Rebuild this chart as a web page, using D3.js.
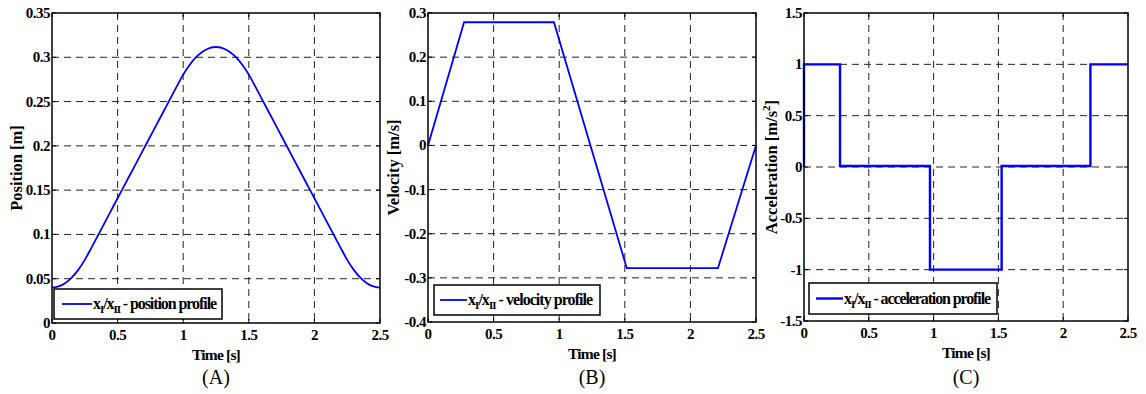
<!DOCTYPE html>
<html><head><meta charset="utf-8">
<script src="https://cdn.jsdelivr.net/npm/d3@7"></script>
<style>
html,body{margin:0;padding:0;background:#fff;}
text{font-family:"Liberation Serif","Times New Roman",serif;}
</style></head>
<body><svg id="c" width="1146" height="394"></svg>
<script>
// ---- data ----
const xTicks = [0, 0.5, 1, 1.5, 2, 2.5];
const xTickLabels = ["0", "0.5", "1", "1.5", "2", "2.5"];

const posTime = [0,0.05,0.1,0.15,0.2,0.25,0.3,0.35,0.4,0.45,0.5,0.55,0.6,0.65,0.7,0.75,0.8,0.85,0.9,0.95,1.0,1.05,1.1,1.15,1.2,1.25,1.3,1.35,1.4,1.45,1.5,1.55,1.6,1.65,1.7,1.75,1.8,1.85,1.9,1.95,2.0,2.05,2.1,2.15,2.2,2.25,2.3,2.35,2.4,2.45,2.5];
const posValues = [0.04,0.0413,0.045,0.0513,0.06,0.0713,0.0848,0.0988,0.1128,0.1268,0.1408,0.1548,0.1688,0.1828,0.1968,0.2108,0.2248,0.2388,0.2528,0.2668,0.2804,0.2916,0.3004,0.3066,0.3104,0.3116,0.3104,0.3066,0.3004,0.2916,0.2804,0.2668,0.2528,0.2388,0.2248,0.2108,0.1968,0.1828,0.1688,0.1548,0.1408,0.1268,0.1128,0.0988,0.0848,0.0713,0.06,0.0513,0.045,0.0413,0.04];
const posTicks = [0,0.05,0.1,0.15,0.2,0.25,0.3,0.35];
const posTickLabels = ["0","0.05","0.1","0.15","0.2","0.25","0.3","0.35"];

const velTime = [0, 0.275, 0.96, 1.515, 2.21, 2.5];
const velValues = [0, 0.279, 0.279, -0.278, -0.278, 0];
const velTicks = [-0.4,-0.3,-0.2,-0.1,0,0.1,0.2,0.3];
const velTickLabels = ["-0.4","-0.3","-0.2","-0.1","0","0.1","0.2","0.3"];

const accTime = [0, 0, 0.278, 0.278, 0.972, 0.972, 1.525, 1.525, 2.21, 2.21, 2.5];
const accValues = [0, 1, 1, 0.01, 0.01, -1, -1, 0.01, 0.01, 1, 1];
const accTicks = [-1.5,-1,-0.5,0,0.5,1,1.5];
const accTickLabels = ["-1.5","-1","-0.5","0","0.5","1","1.5"];

const panels = [
  {left:52, right:380, top:13, bottom:323, yDom:[0,0.35], yTicks:posTicks, yLabels:posTickLabels,
   t:posTime, v:posValues, ylab:"Position [m]", sup:null, leg:"position profile", tag:"(A)", curve:d3.curveMonotoneX, lw:1.8,
   legBox:[54,289,222,319], legLine:[62,92], legW:124, ylabX:22},
  {left:428, right:756, top:13, bottom:322, yDom:[-0.4,0.3], yTicks:velTicks, yLabels:velTickLabels,
   t:velTime, v:velValues, ylab:"Velocity [m/s]", sup:null, leg:"velocity profile", tag:"(B)", curve:d3.curveLinear, lw:1.8,
   legBox:[434,285,600,315], legLine:[440,467], legW:125, ylabX:399},
  {left:804, right:1128, top:13, bottom:321, yDom:[-1.5,1.5], yTicks:accTicks, yLabels:accTickLabels,
   t:accTime, v:accValues, ylab:"Acceleration [m/s", sup:"2", leg:"acceleration profile", tag:"(C)", curve:d3.curveLinear, lw:2.4,
   legBox:[809,283,997,314], legLine:[816,843], legW:147, ylabX:777}
];

const svg = d3.select("#c");

panels.forEach(p => {
  const x = d3.scaleLinear().domain([0,2.5]).range([p.left,p.right]);
  const y = d3.scaleLinear().domain(p.yDom).range([p.bottom,p.top]);
  const g = svg.append("g");

  // grid
  g.selectAll(".vg").data(xTicks.slice(1,-1)).enter().append("line")
    .attr("x1",d=>x(d)).attr("x2",d=>x(d)).attr("y1",p.top).attr("y2",p.bottom)
    .attr("stroke","#222").attr("stroke-width",1).attr("stroke-dasharray","7,5");
  g.selectAll(".hg").data(p.yTicks.slice(1,-1)).enter().append("line")
    .attr("y1",d=>y(d)).attr("y2",d=>y(d)).attr("x1",p.left).attr("x2",p.right)
    .attr("stroke","#222").attr("stroke-width",1).attr("stroke-dasharray","7,5");

  // inward ticks
  const tl = 4;
  xTicks.forEach(d=>{
    g.append("line").attr("x1",x(d)).attr("x2",x(d)).attr("y1",p.bottom).attr("y2",p.bottom-tl).attr("stroke","#000");
    g.append("line").attr("x1",x(d)).attr("x2",x(d)).attr("y1",p.top).attr("y2",p.top+tl).attr("stroke","#000");
  });
  p.yTicks.forEach(d=>{
    g.append("line").attr("y1",y(d)).attr("y2",y(d)).attr("x1",p.left).attr("x2",p.left+tl).attr("stroke","#000");
    g.append("line").attr("y1",y(d)).attr("y2",y(d)).attr("x1",p.right).attr("x2",p.right-tl).attr("stroke","#000");
  });

  // data line
  const line = d3.line().x((d,i)=>x(p.t[i])).y(d=>y(d)).curve(p.curve);
  g.append("path").datum(p.v).attr("d",line).attr("fill","none")
    .attr("stroke","#0000ff").attr("stroke-width",p.lw).attr("stroke-linejoin","miter");

  // frame
  g.append("rect").attr("x",p.left).attr("y",p.top).attr("width",p.right-p.left).attr("height",p.bottom-p.top)
    .attr("fill","none").attr("stroke","#000").attr("stroke-width",1.5);

  // tick labels
  g.selectAll(".xl").data(xTicks).enter().append("text")
    .attr("x",d=>x(d)).attr("y",p.bottom+17).attr("text-anchor","middle")
    .attr("font-size",15).attr("font-weight","bold").attr("letter-spacing","-0.5px")
    .text((d,i)=>xTickLabels[i]);
  g.selectAll(".yl").data(p.yTicks).enter().append("text")
    .attr("x",p.left-2).attr("y",d=>y(d)+5).attr("text-anchor","end")
    .attr("font-size",15).attr("font-weight","bold").attr("letter-spacing","-0.5px")
    .text((d,i)=>p.yLabels[i]);

  // axis labels
  g.append("text").attr("x",(p.left+p.right)/2).attr("y",p.bottom+37).attr("text-anchor","middle")
    .attr("font-size",15.5).attr("font-weight","bold").attr("letter-spacing","-0.8px").text("Time [s]");
  const yl = g.append("text").attr("transform",`translate(${p.ylabX},${(p.top+p.bottom)/2}) rotate(-90)`)
    .attr("text-anchor","middle").attr("font-size",16.5).attr("font-weight","bold");
  yl.append("tspan").text(p.ylab);
  if (p.sup) {
    yl.append("tspan").attr("dy",-7).attr("font-size",11).text(p.sup);
    yl.append("tspan").attr("dy",7).text("]");
  }

  // subplot tag
  g.append("text").attr("x",(p.left+p.right)/2).attr("y",384).attr("text-anchor","middle")
    .attr("font-size",20).text(p.tag);

  // legend
  const [bx0,by0,bx1,by1] = p.legBox;
  g.append("rect").attr("x",bx0).attr("y",by0).attr("width",bx1-bx0).attr("height",by1-by0)
    .attr("fill","#fff").attr("stroke","#000").attr("stroke-width",1.5);
  const ly = (by0+by1)/2;
  g.append("line").attr("x1",p.legLine[0]).attr("x2",p.legLine[1]).attr("y1",ly).attr("y2",ly)
    .attr("stroke","#0000ff").attr("stroke-width",p.lw);
  const lt = g.append("text").attr("x",p.legLine[1]+1).attr("y",ly+5)
    .attr("font-size",16).attr("font-weight","bold").attr("letter-spacing","0px");
  lt.append("tspan").text("x");
  lt.append("tspan").attr("dy",4).attr("font-size",11).text("I");
  lt.append("tspan").attr("dy",-4).text("/x");
  lt.append("tspan").attr("dy",4).attr("font-size",11).text("II");
  lt.append("tspan").attr("dy",-4).text(" - " + p.leg);
  // fit the legend text to its measured width in the reference
  const nChars = lt.text().length;
  let ls = 0;
  for (let k = 0; k < 3; k++) {
    const bb = lt.node().getBBox();
    ls += (p.legW - bb.width) / nChars;
    lt.attr("letter-spacing", ls + "px");
  }
});
</script></body></html>
